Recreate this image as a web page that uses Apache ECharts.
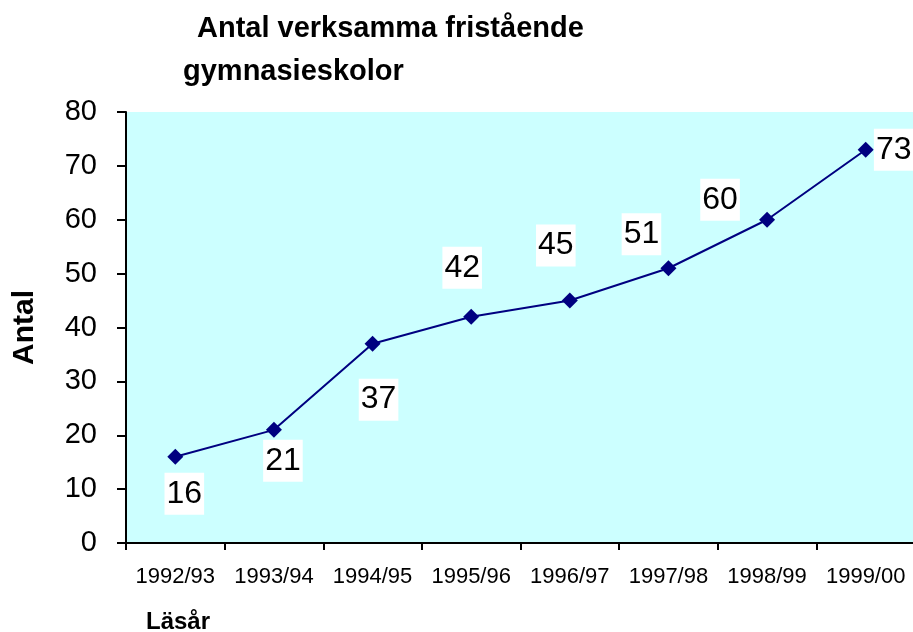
<!DOCTYPE html>
<html>
<head>
<meta charset="utf-8">
<script src="https://cdn.jsdelivr.net/npm/echarts@6/dist/echarts.min.js"></script>
<style>
  html, body { margin: 0; padding: 0; background: #fff; }
  #chart { width: 913px; height: 632px; }
</style>
</head>
<body>
<div id="chart"></div>
<script>
// läsår och antal skolor
const years = ['1992/93', '1993/94', '1994/95', '1995/96', '1996/97', '1997/98', '1998/99', '1999/00'];
const schools = [16, 21, 37, 42, 45, 51, 60, 73];
const yTicks = [0, 10, 20, 30, 40, 50, 60, 70, 80];
// var etikettens ruta hamnar i förhållande till punkten (som i Excel)
const labelOffsets = [[9, 37], [9, 31], [6, 56], [-9, -49], [-14, -55], [-27, -34], [-47, -20], [28, 0]];

let chart = echarts.init(document.getElementById('chart'));
const font = 'Liberation Sans, Arial, sans-serif';

let option = {
    animation: false,
    backgroundColor: '#ffffff',
    graphic: [{
        type: 'text',
        left: 197,
        top: 14,
        style: { text: 'Antal verksamma fristående', font: 'bold 29px ' + font, fill: '#000' }
    }, {
        type: 'text',
        left: 183,
        top: 57,
        style: { text: 'gymnasieskolor', font: 'bold 29px ' + font, fill: '#000' }
    }, {
        type: 'text',
        left: 146,
        top: 610,
        style: { text: 'Läsår', font: 'bold 24px ' + font, fill: '#000' }
    }],
    grid: {
        left: 126,
        top: 112,
        width: 789,
        bottom: 89,
        outerBoundsMode: 'none',
        containLabel: false,
        show: true,
        backgroundColor: '#ccffff',
        borderWidth: 0
    },
    xAxis: {
        type: 'category',
        data: years,
        boundaryGap: true,
        axisLine: { lineStyle: { color: '#000', width: 2 } },
        axisTick: { show: true, length: 7, lineStyle: { color: '#000', width: 2 } },
        axisLabel: {
            interval: 0,
            margin: 23,
            fontFamily: font,
            fontSize: 22,
            color: '#000'
        },
        splitLine: { show: false }
    },
    yAxis: {
        type: 'value',
        min: yTicks[0],
        max: yTicks[yTicks.length - 1],
        interval: yTicks[1] - yTicks[0],
        name: 'Antal',
        nameLocation: 'middle',
        nameGap: 86,
        nameRotate: 90,
        nameTextStyle: {
            fontFamily: font,
            fontWeight: 'bold',
            fontSize: 30,
            color: '#000'
        },
        axisLine: { show: true, lineStyle: { color: '#000', width: 2 } },
        axisTick: { show: true, length: 9, lineStyle: { color: '#000', width: 2 } },
        axisLabel: {
            margin: 29,
            fontFamily: font,
            fontSize: 29,
            color: '#000'
        },
        splitLine: { show: false }
    },
    series: [{
        type: 'line',
        data: schools.map((v, i) => ({
            value: v,
            label: { offset: labelOffsets[i] }
        })),
        symbol: 'diamond',
        symbolSize: 16,
        itemStyle: { color: '#000080' },
        lineStyle: { color: '#000080', width: 2 },
        label: {
            show: true,
            position: 'inside',
            fontFamily: font,
            fontSize: 32,
            color: '#000',
            backgroundColor: '#ffffff',
            padding: [4, 2, 2, 2],
            lineHeight: 36
        }
    }]
};

chart.setOption(option);
</script>
</body>
</html>
